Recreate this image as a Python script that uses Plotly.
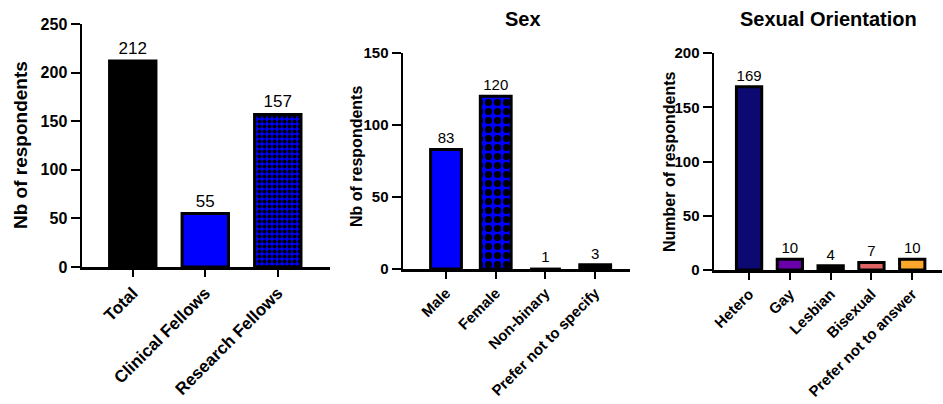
import plotly.graph_objects as go

W, H = 943, 404

# ---- data ----
p1_cats = ["Total", "Clinical Fellows", "Research Fellows"]
p1_vals = [212, 55, 157]
p2_cats = ["Male", "Female", "Non-binary", "Prefer not to specify"]
p2_vals = [83, 120, 1, 3]
p3_cats = ["Hetero", "Gay", "Lesbian", "Bisexual", "Prefer not to answer"]
p3_vals = [169, 10, 4, 7, 10]

p1_colors = ["#000000", "#0000FF", "#0000FF"]
p2_colors = ["#0000FF", "#0000FF", "#000000", "#000000"]
p3_colors = ["#0C0A72", "#6A00AA", "#000000", "#E06666", "#FFA62B"]
p1_pattern = ["", "", "."]
p2_pattern = ["", ".", "", ""]

FONT = "Liberation Sans, Arial, sans-serif"

fig = go.Figure()

def add_panel(cats, vals, colors, patterns, psize, lws, width, xa, ya, tsize):
    # one trace per bar so each bar can carry its own fill pattern
    for i, (c, v) in enumerate(zip(cats, vals)):
        fig.add_trace(go.Bar(
            x=[c], y=[v], width=width,
            marker=dict(color=colors[i], line=dict(color="black", width=lws[i]),
                        pattern=dict(shape=patterns[i], fgcolor="#000000",
                                     fgopacity=1, bgcolor=colors[i], size=psize,
                                     solidity=0.5, fillmode="replace")),
            text=[str(v)], textposition="outside",
            textfont=dict(family=FONT, size=tsize, color="black"),
            constraintext="none", cliponaxis=False,
            xaxis=xa, yaxis=ya, showlegend=False, hoverinfo="skip",
        ))

add_panel(p1_cats, p1_vals, p1_colors, p1_pattern, 5, [3, 3, 3], 0.64, "x", "y", 17)
add_panel(p2_cats, p2_vals, p2_colors, p2_pattern, 9, [3, 3, 0, 3], 0.62, "x2", "y2", 15)
add_panel(p3_cats, p3_vals, p3_colors, [""] * 5, 8, [3] * 5, 0.62, "x3", "y3", 15)

def xax(x0, x1, rng, cats, fsize, anchor):
    return dict(domain=[x0 / W, x1 / W], range=rng, type="category",
                categoryorder="array", categoryarray=cats, showline=True,
                linecolor="black", linewidth=2.5, ticks="outside", ticklen=7,
                tickwidth=2, tickcolor="black", tickangle=-45, showgrid=False,
                zeroline=False, automargin=False, anchor=anchor,
                tickfont=dict(family=FONT, size=fsize, color="black", weight="bold"))

def yax(ybot, ytop, rng, dtick, fsize, anchor):
    return dict(domain=[1 - ybot / H, 1 - ytop / H], range=rng, dtick=dtick,
                showline=True, linecolor="black", linewidth=2.5, ticks="outside",
                ticklen=9, tickwidth=2, tickcolor="black", showgrid=False,
                zeroline=False, automargin=False, anchor=anchor,
                tickfont=dict(family=FONT, size=fsize, color="black", weight="bold"))

fig.update_layout(
    template="none",
    width=W, height=H, autosize=False,
    margin=dict(l=0, r=0, t=0, b=0, pad=0),
    paper_bgcolor="white", plot_bgcolor="white",
    barmode="overlay",
    xaxis=xax(82, 330, [-0.70, 2.72], p1_cats, 17, "y"),
    yaxis=yax(267, 24, [0, 250], 50, 16, "x"),
    xaxis2=xax(403, 630, [-0.865, 3.70], p2_cats, 15, "y2"),
    yaxis2=yax(269, 53, [0, 150], 50, 15, "x2"),
    xaxis3=xax(714, 942, [-0.86, 4.73], p3_cats, 15, "y3"),
    yaxis3=yax(270, 53, [0, 200], 50, 15, "x3"),
)

ann = []
def ytitle(text, xw, yw, size):
    ann.append(dict(text=text, x=xw / W, y=1 - yw / H, xref="paper", yref="paper",
                    showarrow=False, textangle=-90, xanchor="center", yanchor="middle",
                    font=dict(family=FONT, size=size, color="black", weight="bold")))

ytitle("Nb of respondents", 20, 145, 19)
ytitle("Nb of respondents", 356, 157, 16)
ytitle("Number of respondents", 669, 162, 16)

for t, xw in [("Sex", 523), ("Sexual Orientation", 828)]:
    ann.append(dict(text=t, x=xw / W, y=1 - 19 / H, xref="paper", yref="paper",
                    showarrow=False, xanchor="center", yanchor="middle",
                    font=dict(family=FONT, size=20, color="black", weight="bold")))

fig.update_layout(annotations=ann)
# remove the page's default 8px body margin so the 943x404 figure fills the window
fig.write_html("out.html", config={"displayModeBar": False, "staticPlot": True},
               post_script="document.body.style.margin='0';document.body.style.overflow='hidden';")
